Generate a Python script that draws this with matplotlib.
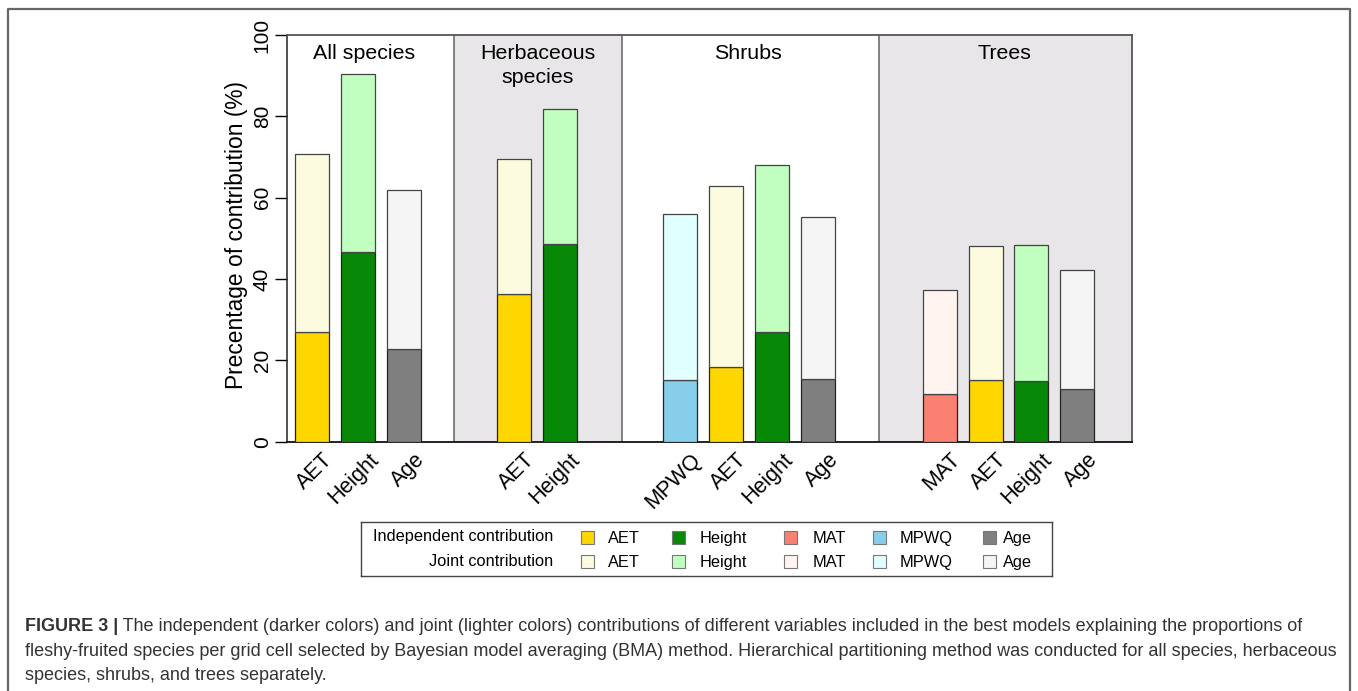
import matplotlib
matplotlib.use("Agg")
import matplotlib.pyplot as plt
from matplotlib.patches import Rectangle
from matplotlib.lines import Line2D

plt.rcParams['font.family'] = ['Liberation Sans', 'DejaVu Sans']

# ---------------- data ----------------
groups = ["All species", "Herbaceous\nspecies", "Shrubs", "Trees"]
all_vars = ["AET", "Height", "Age"]
all_indep = [26.9, 46.7, 22.7]
all_joint = [43.9, 43.6, 39.1]
herb_vars = ["AET", "Height"]
herb_indep = [36.2, 48.7]
herb_joint = [33.2, 33.1]
shrub_vars = ["MPWQ", "AET", "Height", "Age"]
shrub_indep = [15.2, 18.4, 26.9, 15.5]
shrub_joint = [40.7, 44.5, 41.2, 39.7]
tree_vars = ["MAT", "AET", "Height", "Age"]
tree_indep = [11.7, 15.1, 15.0, 13.0]
tree_joint = [25.5, 33.1, 33.3, 29.1]

legend_vars = ["AET", "Height", "MAT", "MPWQ", "Age"]
indep_colors = {"AET": "#FFD700", "Height": "#078807", "MAT": "#FA8072",
                "MPWQ": "#87CEEB", "Age": "#7F7F7F"}
joint_colors = {"AET": "#FCFBDF", "Height": "#C1FFC1", "MAT": "#FFF4F0",
                "MPWQ": "#E0FFFF", "Age": "#F5F5F5"}

caption_bold = "FIGURE 3 |"
caption_lines = [
    " The independent (darker colors) and joint (lighter colors) contributions of different variables included in the best models explaining the proportions of",
    "fleshy-fruited species per grid cell selected by Bayesian model averaging (BMA) method. Hierarchical partitioning method was conducted for all species, herbaceous",
    "species, shrubs, and trees separately.",
]

# ---------------- layout ----------------
W, H = 1358, 691
panel_edges = [0.0, 3.64, 7.30, 12.90, 18.41]
first_offset = [0.55, 1.30, 1.27, 1.32]
bar_step = 1.0
bar_width = 0.74
title_x = [1.68, 5.46, 10.05, 15.64]
panel_bg = ["white", "#E8E6E8", "white", "#E8E6E8"]

fig = plt.figure(figsize=(W / 100, H / 100), dpi=100)
ax_left, ax_right, ax_top, ax_bot = 287, 1132, 35, 441.7
ax = fig.add_axes([ax_left / W, 1 - ax_bot / H, (ax_right - ax_left) / W, (ax_bot - ax_top) / H])
ax.set_xlim(panel_edges[0], panel_edges[-1])
ax.set_ylim(0, 100)

data = [(all_vars, all_indep, all_joint), (herb_vars, herb_indep, herb_joint),
        (shrub_vars, shrub_indep, shrub_joint), (tree_vars, tree_indep, tree_joint)]

for gi, (vars_, ind, jnt) in enumerate(data):
    ax.axvspan(panel_edges[gi], panel_edges[gi + 1], color=panel_bg[gi], zorder=0, lw=0)
    xs = [panel_edges[gi] + first_offset[gi] + i * bar_step for i in range(len(vars_))]
    ax.bar(xs, ind, width=bar_width, color=[indep_colors[v] for v in vars_],
           edgecolor="#222222", linewidth=0.9, zorder=3)
    ax.bar(xs, jnt, bottom=ind, width=bar_width, color=[joint_colors[v] for v in vars_],
           edgecolor="#444444", linewidth=0.9, zorder=3)
    for x, v in zip(xs, vars_):
        ax.text(x + 0.22, -1.8, v, rotation=45, rotation_mode="anchor", ha="right", va="top",
                fontsize=15.5, color="black")
    for li, line in enumerate(groups[gi].split("\n")):
        ax.text(title_x[gi], 94.1 - li * 6.0, line, ha="center", va="baseline", fontsize=15.4,
                color="black", zorder=4)

for e in panel_edges[1:-1]:
    ax.axvline(e, color="#6E6E6E", lw=1.2, zorder=2)

ax.set_xticks([])
ax.set_yticks(range(0, 101, 20))
ax.tick_params(axis="y", length=9, width=1.0, direction="out", labelsize=15, pad=2)
for lab in ax.get_yticklabels():
    lab.set_rotation(90)
    lab.set_va("center")
for s in ["top", "right"]:
    ax.spines[s].set_color("#555555")
    ax.spines[s].set_linewidth(1.3)
ax.spines["left"].set_color("#222222")
ax.spines["bottom"].set_color("#111111")
ax.spines["left"].set_linewidth(1.1)
ax.spines["bottom"].set_linewidth(1.3)

fig.text(236 / W, 1 - 235 / H, "Precentage of contribution (%)", rotation=90,
         ha="center", va="center", fontsize=16.4)

# ---------------- legend ----------------
lx0, lx1, ly0, ly1 = 361, 1052, 522, 576
lax = fig.add_axes([lx0 / W, 1 - ly1 / H, (lx1 - lx0) / W, (ly1 - ly0) / H])
lax.set_xlim(lx0, lx1)
lax.set_ylim(ly1, ly0)
lax.set_xticks([]); lax.set_yticks([])
for s in lax.spines.values():
    s.set_color("#444444"); s.set_linewidth(1.0)
row_y = [537, 561]
row_names = ["Independent contribution", "Joint contribution"]
sw_x = [581, 672, 784, 873, 983]
txt_x = [608, 700, 813, 900, 1003]
for ri, (ry, rn) in enumerate(zip(row_y, row_names)):
    lax.text(553, ry, rn, ha="right", va="center", fontsize=11.8)
    cols = indep_colors if ri == 0 else joint_colors
    for v, sx, tx in zip(legend_vars, sw_x, txt_x):
        lax.add_patch(Rectangle((sx, ry - 6.5), 13, 13, facecolor=cols[v],
                                edgecolor="#777777", lw=0.8))
        lax.text(tx, ry + 1.5, v, ha="left", va="center", fontsize=11.8)

# ---------------- outer frame ----------------
fig.add_artist(Line2D([8 / W, 8 / W, 1350 / W, 1350 / W], [0, 1 - 9 / H, 1 - 9 / H, 0],
                      transform=fig.transFigure, color="#666666", lw=1.6))

# ---------------- caption ----------------
cap_color = "#333333"
cap_fs = 13.0
base_y = [631, 656, 680]
r = fig.canvas.get_renderer()
tb = fig.text(25 / W, 1 - base_y[0] / H, caption_bold, fontsize=cap_fs, fontweight="bold",
              color=cap_color, va="baseline", ha="left")
bb = tb.get_window_extent(r)
fig.text(bb.x1 / W, 1 - base_y[0] / H, caption_lines[0], fontsize=cap_fs, color=cap_color,
         va="baseline", ha="left")
for line, by in zip(caption_lines[1:], base_y[1:]):
    fig.text(25 / W, 1 - by / H, line, fontsize=cap_fs, color=cap_color, va="baseline", ha="left")

fig.savefig("out.png", dpi=100)
